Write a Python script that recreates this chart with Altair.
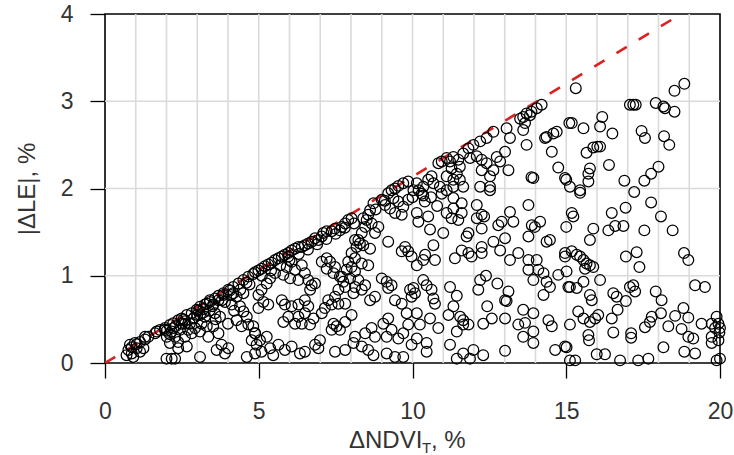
import altair as alt
import pandas as pd

# ---- data ----
pts_a = [  # x 0-5
    (0.81,0.21),(0.76,0.15),(0.87,0.11),(1.03,0.17),(1.14,0.13),(0.92,0.07),(0.70,0.09),(0.97,0.23),
    (1.25,0.17),(1.30,0.30),
    (1.68,0.36),(1.95,0.38),(2.01,0.37),(2.11,0.33),(2.22,0.40),(2.17,0.36),(2.01,0.30),(2.11,0.23),
    (2.28,0.30),(2.38,0.24),(2.44,0.38),(2.55,0.50),(2.60,0.45),(2.60,0.30),(2.66,0.19),(2.38,0.17),
    (2.00,0.05),(2.17,0.05),(2.28,0.05),
    (2.76,0.45),(2.87,0.51),(2.93,0.40),(2.82,0.34),(3.03,0.60),(3.09,0.55),(3.20,0.62),(3.31,0.68),
    (3.41,0.70),(3.25,0.53),(3.14,0.45),(3.31,0.42),(3.09,0.36),(3.36,0.30),(3.09,0.07),
    (3.52,0.67),(3.69,0.72),(3.58,0.57),(3.74,0.53),(3.52,0.42),(3.69,0.34),(3.79,0.21),(3.63,0.15),
    (3.90,0.11),(4.01,0.17),
    (3.85,0.78),(4.06,0.83),(4.17,0.80),(4.28,0.76),(4.12,0.67),(4.39,0.65),(4.50,0.59),(4.61,0.53),
    (4.28,0.49),(4.44,0.42),(4.66,0.44),(4.82,0.42),(4.88,0.34),(4.77,0.26),(4.93,0.21),(4.61,0.07),
    (4.88,0.11),
    (4.82,1.02),(4.66,0.99),(4.50,0.95),(4.34,0.91),(4.17,0.87),(4.01,0.84),(3.85,0.80),(3.69,0.77),
    (3.58,0.74),(3.41,0.72),(3.25,0.67),(3.09,0.645),(2.98,0.61),(2.82,0.57),(2.66,0.55),(2.49,0.51),
    (2.38,0.49),(2.22,0.455),(2.11,0.436),(1.95,0.40),(1.79,0.378),(1.63,0.34),(1.41,0.30),(1.30,0.27),
    (1.14,0.24),(1.03,0.215),(0.87,0.18),
    (2.50,0.45),(2.70,0.38),(3.00,0.55),(3.40,0.60),(3.90,0.70),(4.20,0.60),(4.70,0.90),(4.50,0.80),
    (4.00,0.45),(2.30,0.42),(3.60,0.50),
    (2.60,0.48),(2.90,0.52),(3.20,0.58),(3.50,0.65),(3.80,0.72),(4.10,0.78),(4.40,0.84),(4.60,0.92),
]
pts_b = [  # x 5-10, y < 2
    (9.21,1.945),(9.38,1.888),(9.54,1.85),(9.70,1.79),(9.86,1.87),(9.65,1.70),(9.43,1.72),(9.27,1.77),
    (9.11,1.81),(9.00,1.87),
    (8.73,1.83),(8.62,1.75),(8.56,1.70),(8.51,1.64),(8.67,1.60),(8.46,1.56),(8.35,1.49),(8.24,1.41),
    (8.18,1.33),
    (8.02,1.658),(7.91,1.64),(7.81,1.60),(7.70,1.56),(7.64,1.52),(7.48,1.54),(7.37,1.51),(7.21,1.51),
    (7.10,1.49),(7.05,1.45),(6.94,1.41),(6.83,1.43),(6.72,1.39),(6.61,1.37),(6.50,1.35),(6.40,1.33),
    (6.29,1.33),(6.18,1.31),(6.07,1.29),(5.96,1.26),(5.85,1.24),(5.75,1.22),(5.64,1.20),(5.53,1.18),
    (5.42,1.15),(5.31,1.13),(5.20,1.11),(5.09,1.08),(4.99,1.06),(4.88,1.04),
    (5.10,1.00),(5.40,1.06),(5.70,1.12),(6.00,1.18),(6.30,1.25),(6.60,1.30),(6.90,1.36),(7.20,1.42),
    (7.50,1.48),(7.80,1.55),(8.10,1.60),(8.40,1.66),(8.80,1.76),(9.10,1.86),
    (5.96,1.22),(6.07,1.16),(5.91,1.10),(6.18,1.07),(6.40,1.12),(6.50,1.03),(6.61,0.95),(6.72,0.89),
    (6.83,0.91),(6.67,0.84),(6.29,0.95),(6.02,0.97),(5.80,1.01),(5.53,1.03),(5.37,0.97),(5.26,0.91),
    (5.09,0.84),(4.99,0.78),(5.15,0.70),(5.31,0.67),(4.99,0.63),
    (7.70,0.99),(7.86,1.07),(8.02,1.10),(8.13,1.05),(7.97,0.97),(7.81,0.87),(8.13,0.87),(8.24,0.95),
    (8.46,0.89),(8.35,0.84),(8.08,0.80),
    (9.00,0.97),(9.16,0.93),(9.32,0.89),(9.21,0.86),(9.92,0.84),(9.97,0.76),
    (9.21,1.39),(9.76,1.33),(9.86,1.28),(8.89,1.56),(8.78,1.49),(8.13,1.41),(8.29,1.37),(8.40,1.35),
    (8.62,1.31),(8.02,1.26),(8.13,1.20),(8.35,1.14),(8.56,1.12),(7.91,1.16),
    (7.21,1.20),(7.32,1.16),(7.48,1.10),
    (7.05,1.16),(7.21,1.08),(7.43,1.03),(7.64,0.99),(7.75,0.93),(7.59,0.84),(7.48,0.76),(7.26,0.72),
    (9.65,1.28),(9.97,1.22),(8.78,0.76),(8.62,0.72),(9.43,0.72),(9.65,0.68),(9.81,0.57),
    (5.75,0.72),(5.85,0.67),(6.07,0.65),(6.29,0.67),(6.50,0.72),(6.61,0.65),(6.50,0.57),(6.29,0.53),
    (5.96,0.53),(5.80,0.47),(6.18,0.45),(6.40,0.45),(6.67,0.44),(6.78,0.51),(7.05,0.57),(7.15,0.63),
    (7.37,0.67),(7.59,0.68),(7.81,0.68),
    (7.43,0.45),(7.53,0.42),(7.37,0.38),(7.64,0.38),(7.81,0.47),(8.02,0.55),(8.13,0.30),(8.08,0.23),
    (8.35,0.19),(8.46,0.34),(8.67,0.40),(8.78,0.30),(9.05,0.45),(9.21,0.51),(9.32,0.38),(9.16,0.30),
    (9.54,0.28),(9.70,0.34),(9.86,0.44),(9.97,0.21),
    (4.88,0.34),(5.04,0.26),(5.26,0.30),(5.37,0.17),(5.64,0.21),(5.09,0.13),(5.47,0.09),(5.85,0.15),
    (6.07,0.19),(6.34,0.11),(6.50,0.13),(6.83,0.21),(6.99,0.26),(6.94,0.17),(7.48,0.13),(7.81,0.15),
    (8.56,0.15),(8.73,0.09),(9.16,0.11),(9.43,0.07),(9.70,0.07),
]
pts_c = [  # x 10-15, y < 2
    (10.30,1.94),(10.35,1.92),(10.95,1.94),(11.33,1.89),(11.60,1.83),(11.33,1.77),(12.09,1.81),
    (12.25,1.70),(12.33,1.68),(12.09,1.66),(11.11,1.72),(11.27,1.66),(11.49,1.64),(11.60,1.72),
    (12.52,1.98),(10.20,1.98),(10.40,1.85),(10.60,1.90),(10.80,1.80),(10.00,1.90),
    (10.14,1.72),(10.51,1.68),(10.19,1.62),(10.57,1.53),(11.00,1.49),(11.82,1.49),(11.76,1.45),
    (12.25,1.54),
    (12.79,1.58),(12.90,1.62),(13.17,1.73),(13.28,1.62),(13.77,1.81),(14.15,1.62),(13.88,1.58),
    (13.77,1.45),(13.98,1.56),(14.36,1.39),(14.47,1.41),(13.01,1.43),(12.63,1.39),(12.85,1.29),
    (15.00,1.56),(14.96,1.22),
    (10.68,1.35),(10.41,1.24),(10.35,1.18),(10.14,1.12),(10.73,1.18),(11.38,1.20),(11.60,1.29),
    (11.82,1.26),(11.92,1.22),(12.25,1.33),(12.25,1.26),
    (13.17,1.18),(13.44,1.26),(13.77,1.18),(13.77,1.07),(14.04,1.18),(14.09,1.07),(13.93,0.95),
    (14.26,1.03),(14.36,0.93),(14.47,0.87),(14.74,1.01),(14.26,0.78),(15.01,1.05),(15.07,0.87),
    (10.35,0.95),(10.46,0.89),(10.62,0.84),(10.68,0.74),(10.73,0.68),(10.08,0.80),(10.03,0.86),
    (11.22,0.87),(11.44,0.77),(11.33,0.65),(11.17,0.55),(11.55,0.53),(11.65,0.49),(11.65,0.44),
    (11.82,0.44),(11.44,0.36),
    (12.20,0.95),(12.39,1.00),(12.14,0.84),(12.76,0.91),(13.12,0.82),(13.01,0.72),(13.06,0.71),
    (12.43,0.65),(12.58,0.51),(12.30,0.45),(13.01,0.51),(13.44,0.44),(13.66,0.46),(13.60,0.61),
    (13.93,0.57),(13.93,0.36),(13.60,0.30),(13.93,0.23),(14.42,0.49),(14.53,0.42),
    (10.14,0.57),(10.57,0.51),(10.24,0.44),(10.84,0.40),(10.14,0.28),(10.46,0.23),(10.46,0.13),
    (11.22,0.21),(11.65,0.11),(11.98,0.15),(12.30,0.09),(11.87,0.05),(11.44,0.05),(13.01,0.14),
    (14.64,0.15),(14.96,0.19),
]
pts_d = [  # x 15-20
    (15.45,1.95),(15.18,1.72),(15.23,1.68),(16.48,1.72),(16.93,1.78),(17.76,1.84),(18.08,1.68),
    (15.88,1.54),(15.77,1.41),(16.37,1.52),(16.59,1.57),(16.86,1.57),(17.54,1.52),(18.46,1.52),
    (14.96,1.26),(15.18,1.28),(15.34,1.24),(15.45,1.22),(15.56,1.18),(15.66,1.14),(15.77,1.12),
    (15.88,1.10),(15.61,1.08),
    (16.94,1.22),(17.29,1.27),(17.38,1.10),(18.83,1.26),(18.97,1.18),
    (15.12,0.87),(15.34,0.86),(15.56,0.93),(15.77,0.78),(15.83,0.72),(16.10,0.95),
    (16.53,0.80),(16.64,0.76),(16.94,0.71),(17.07,0.87),(17.18,0.89),(17.24,0.82),(16.67,0.61),
    (16.48,0.51),
    (17.91,0.82),(18.10,0.72),(18.08,0.57),(17.78,0.53),(17.72,0.47),(17.56,0.41),(19.19,0.89),
    (19.51,0.87),
    (15.39,0.59),(15.56,0.51),(15.77,0.47),(15.94,0.51),(16.04,0.55),(15.12,0.44),(15.72,0.32),
    (15.74,0.26),(16.53,0.35),(17.11,0.34),(17.11,0.29),
    (18.32,0.42),(18.54,0.54),(18.81,0.63),(18.97,0.52),(18.75,0.39),(18.97,0.30),(19.13,0.28),
    (19.40,0.45),(19.73,0.45),(19.84,0.40),(19.89,0.53),(19.73,0.30),(19.73,0.23),(19.95,0.26),
    (19.95,0.45),(20.00,0.40),(19.98,0.35),(20.00,0.05),
    (15.01,0.18),(15.99,0.10),(16.26,0.10),(18.16,0.18),(18.84,0.13),(19.19,0.11),
    (15.12,0.03),(15.29,0.03),(16.75,0.03),(17.34,0.03),(17.67,0.05),(19.89,0.03),
    (15.31,3.15),(18.52,3.12),(18.84,3.20),(17.07,2.96),(17.18,2.96),(17.26,2.96),(17.91,2.98),
    (18.16,2.94),(18.21,2.92),(18.52,2.88),(15.18,2.75),(15.56,2.69),(16.17,2.82),(16.10,2.71),
    (16.50,2.63),(17.45,2.66),(17.56,2.58),(18.18,2.60),(18.35,2.50),(15.66,2.41),(15.88,2.47),
    (16.01,2.48),(16.10,2.48),(16.39,2.27),(15.77,2.23),(15.72,2.17),(15.72,2.08),(14.96,2.12),
    (15.12,2.02),(15.45,1.98),(16.89,2.09),(17.21,1.96),(17.54,2.09),(17.76,2.17),(18.00,2.25),
]
pts_e = [  # y > 2, x 9-15
    (14.20,2.96),(14.04,2.92),(13.87,2.88),(13.71,2.86),(13.60,2.82),(13.50,2.80),(13.82,2.84),
    (13.66,2.75),(13.60,2.67),(13.71,2.50),
    (14.58,2.63),(14.69,2.65),(14.36,2.59),(14.31,2.58),(14.53,2.42),(14.74,2.24),(15.00,2.10),
    (15.10,2.75),(13.87,2.13),(13.93,2.12),
    (13.06,2.69),(13.17,2.58),(13.01,2.42),(13.12,2.21),(12.74,2.36),(12.85,2.31),(12.63,2.21),
    (12.41,2.29),(12.25,2.33),(12.09,2.37),(12.25,2.21),(12.52,2.14),(12.52,2.02),(12.20,2.02),
    (12.63,2.65),(12.41,2.58),(12.20,2.54),(11.98,2.50),(11.82,2.46),(11.87,2.35),(11.65,2.40),
    (11.54,2.25),(11.49,2.33),(11.33,2.36),(11.22,2.31),(11.11,2.35),(10.95,2.31),(10.84,2.29),
    (11.27,2.23),(11.44,2.17),(11.54,2.10),(11.33,2.10),(11.11,2.14),(11.65,2.02),(11.33,2.02),
    (10.62,2.14),(10.51,2.10),(10.68,2.06),(10.35,2.02),(10.14,2.06),(10.03,1.98),(9.86,2.08),
    (9.70,2.06),(9.54,2.03),(9.43,2.00),(9.32,1.98),(10.89,2.02),(11.11,1.98),
]

ref_x = [0, 20]          # dashed reference line |dLE| = k * dNDVI
ref_y = [0, 4.27]
grid_x = list(range(1, 20))
grid_y = list(range(1, 4))
x_ticks = [0, 5, 10, 15, 20]
y_ticks = [0, 1, 2, 3, 4]

pts = pts_a + pts_b + pts_c + pts_d + pts_e
df = pd.DataFrame(pts, columns=["ndvi", "le"])
ref_df = pd.DataFrame({"ndvi": ref_x, "le": ref_y})

xs = alt.Scale(domain=[0, 20], nice=False, zero=False)
ys = alt.Scale(domain=[0, 4], nice=False, zero=False)

FONT = "Liberation Sans"
LBL = "#333333"

ax_x = alt.Axis(values=x_ticks, grid=False, domain=False, tickSize=15, tickColor="black",
                tickWidth=1.3, labelFontSize=23, labelColor=LBL, labelFont=FONT,
                labelPadding=22, title=None, labelFlush=False)
ax_y = alt.Axis(values=y_ticks, grid=False, domain=False, tickSize=15, tickColor="black",
                tickWidth=1.3, labelFontSize=23, labelColor=LBL, labelFont=FONT,
                labelPadding=17, title="|ΔLE|, %", titleFontSize=24, titleFont=FONT,
                titleColor=LBL, titleFontWeight="normal", titleAngle=270, titleX=-78,
                titleY=174.5, titleAlign="center", titleBaseline="middle", labelFlush=False)

gx = alt.Chart(pd.DataFrame({"ndvi": grid_x})).mark_rule(color="#dadada", strokeWidth=1.6).encode(
    x=alt.X("ndvi:Q", scale=xs, axis=ax_x))
gy = alt.Chart(pd.DataFrame({"le": grid_y})).mark_rule(color="#dadada", strokeWidth=1.6).encode(
    y=alt.Y("le:Q", scale=ys, axis=ax_y))

points = alt.Chart(df).mark_point(
    shape="circle", filled=False, size=115, color="black", strokeWidth=1.25, opacity=1
).encode(
    x=alt.X("ndvi:Q", scale=xs, axis=ax_x),
    y=alt.Y("le:Q", scale=ys, axis=ax_y),
)

ref = alt.Chart(ref_df).mark_line(color="#dd2020", strokeWidth=2.6, strokeDash=[12, 14], clip=True).encode(
    x=alt.X("ndvi:Q", scale=xs, axis=ax_x), y=alt.Y("le:Q", scale=ys, axis=ax_y))

one = alt.Data(values=[{"a": 1}])
t1 = alt.Chart(one).mark_text(text="ΔNDVI", fontSize=24, font=FONT, color=LBL, align="left",
                              baseline="alphabetic").encode(x=alt.value(244), y=alt.value(434))
t2 = alt.Chart(one).mark_text(text="T", fontSize=15, font=FONT, color=LBL, align="left",
                              baseline="alphabetic").encode(x=alt.value(317), y=alt.value(439))
t3 = alt.Chart(one).mark_text(text=",  %", fontSize=24, font=FONT, color=LBL, align="left",
                              baseline="alphabetic").encode(x=alt.value(326), y=alt.value(434))

chart = alt.layer(gx, gy, ref, points, t1, t2, t3).properties(
    width=615, height=349,
    padding={"left": 105, "top": 14, "right": 14, "bottom": 92},
    autosize=alt.AutoSizeParams(type="none"),
).configure(background="white").configure_view(stroke="black", strokeWidth=1.6)

chart.save("out.html", embed_options={"renderer": "svg", "actions": False})
